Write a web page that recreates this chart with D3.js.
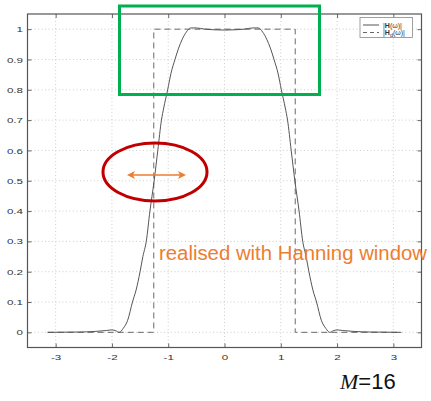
<!DOCTYPE html>
<html><head><meta charset="utf-8">
<script src="https://cdn.jsdelivr.net/npm/d3@7"></script>
<style>body{margin:0;background:#fff}svg{display:block}</style>
</head><body>
<svg id="c" width="431" height="401"></svg>
<script>
// Data
const omega = [-3.1416,-2.9,-2.6,-2.3,-2.1,-2.0,-1.93,-1.87,-1.80,-1.72,-1.635,-1.57,-1.50,-1.45,-1.39,-1.325,-1.25,-1.185,-1.12,-1.08,-1.01,-0.95,-0.88,-0.82,-0.75,-0.68,-0.6,-0.5,-0.35,-0.2,0,
  0.2,0.35,0.5,0.6,0.68,0.75,0.82,0.88,0.95,1.01,1.08,1.12,1.185,1.25,1.325,1.39,1.45,1.50,1.57,1.635,1.72,1.80,1.87,1.93,2.0,2.1,2.3,2.6,2.9,3.1416];
const Hmag = [0,0.0005,0.001,0.003,0.006,0.008,0.005,0.0,0.013,0.04,0.1,0.14,0.2,0.25,0.3,0.4,0.5,0.6,0.7,0.74,0.8,0.855,0.9,0.935,0.967,0.99,1.004,1.004,1.0,0.998,0.997,
  0.998,1.0,1.004,1.004,0.99,0.967,0.935,0.9,0.855,0.8,0.74,0.7,0.6,0.5,0.4,0.3,0.25,0.2,0.14,0.1,0.04,0.013,0.0,0.005,0.008,0.006,0.003,0.001,0.0005,0];
const omegaIdeal = [-3.1416,-1.2566,-1.2566,1.2566,1.2566,3.1416];
const HdIdeal = [0,0,1,1,0,0];
const xTicks = [-3,-2,-1,0,1,2,3];
const yTicks = [0,0.1,0.2,0.3,0.4,0.5,0.6,0.7,0.8,0.9,1];
const noteText = "realised with Hanning window";

const svg = d3.select("#c");
const L=27.5,R=421.5,T=14,B=347.5;
const x = d3.scaleLinear().domain([-3.5,3.5]).range([L,R]);
const y = d3.scaleLinear().domain([-0.05,1.05]).range([B,T]);
const SX = 1.45;

// grid
const g = svg.append("g");
g.selectAll(".gx").data(xTicks).enter().append("line")
 .attr("x1",d=>x(d)).attr("x2",d=>x(d)).attr("y1",T).attr("y2",B)
 .attr("stroke","#c8c8c8").attr("stroke-width",0.9).attr("stroke-dasharray","1,2.5");
g.selectAll(".gy").data(yTicks).enter().append("line")
 .attr("y1",d=>y(d)).attr("y2",d=>y(d)).attr("x1",L).attr("x2",R)
 .attr("stroke","#c8c8c8").attr("stroke-width",0.9).attr("stroke-dasharray","1,2.5");

// axes
const ax = d3.axisBottom(x).tickValues(xTicks).tickSize(-4).tickPadding(7).tickFormat(d=>d<0?"-"+(-d):d);
const ay = d3.axisLeft(y).tickValues(yTicks).tickSize(-4).tickPadding(3.5).tickFormat(d=>d);
const gxA = svg.append("g").attr("transform",`translate(0,${B})`).call(ax);
const gyA = svg.append("g").attr("transform",`translate(${L},0)`).call(ay);
svg.append("g").attr("transform",`translate(0,${T})`).call(d3.axisTop(x).tickValues(xTicks).tickSize(-4).tickFormat(""));
svg.append("g").attr("transform",`translate(${R},0)`).call(d3.axisRight(y).tickValues(yTicks).tickSize(-4).tickFormat(""));
svg.selectAll(".domain").attr("stroke","none");
svg.selectAll(".tick line").attr("stroke","#666");
svg.selectAll(".tick text").attr("fill","#333").style("font-family","Liberation Sans, Arial, sans-serif").style("font-size","8px");
gxA.selectAll(".tick text").attr("transform",`scale(${SX},1)`);
gyA.selectAll(".tick text").attr("transform",`scale(${SX},1)`).attr("x",-4.5/SX);
svg.append("rect").attr("x",L).attr("y",T).attr("width",R-L).attr("height",B-T)
 .attr("fill","none").attr("stroke","#555").attr("stroke-width",1.2);

// ideal
const line = d3.line().x(d=>x(d[0])).y(d=>y(d[1]));
svg.append("path").datum(omegaIdeal.map((w,i)=>[w,HdIdeal[i]])).attr("d",line)
 .attr("fill","none").attr("stroke","#6a6a6a").attr("stroke-width",1).attr("stroke-dasharray","6,4");
// actual
svg.append("path").datum(omega.map((w,i)=>[w,Hmag[i]])).attr("d",d3.line().curve(d3.curveMonotoneX).x(d=>x(d[0])).y(d=>y(d[1])))
 .attr("fill","none").attr("stroke","#555").attr("stroke-width",1);

// legend
const lg = svg.append("g");
lg.append("rect").attr("x",360).attr("y",17.5).attr("width",52.5).attr("height",20).attr("fill","#fff").attr("stroke","#888").attr("stroke-width",0.8);
lg.append("line").attr("x1",363).attr("x2",379).attr("y1",25).attr("y2",25).attr("stroke","#555");
lg.append("line").attr("x1",363).attr("x2",379).attr("y1",32.5).attr("y2",32.5).attr("stroke","#666").attr("stroke-dasharray","4,3");
const lf = "Liberation Sans, Arial, sans-serif";
const t1 = lg.append("text").attr("x",383).attr("y",27.5).attr("fill","#333").style("font-family",lf).style("font-size","7px");
t1.append("tspan").text("|"); t1.append("tspan").attr("font-weight","bold").text("H"); t1.append("tspan").text("(ω)|");
const t2 = lg.append("text").attr("x",383).attr("y",35).attr("fill","#333").style("font-family",lf).style("font-size","7px");
t2.append("tspan").text("|"); t2.append("tspan").attr("font-weight","bold").text("H");
t2.append("tspan").attr("dy",2).style("font-size","5.5px").text("d"); t2.append("tspan").attr("dy",-2).text("(ω)|");

// annotations
svg.append("rect").attr("x",119.5).attr("y",6).attr("width",200).attr("height",88.5)
 .attr("fill","none").attr("stroke","#00b050").attr("stroke-width",3);
svg.append("ellipse").attr("cx",155).attr("cy",172).attr("rx",52).attr("ry",29)
 .attr("fill","none").attr("stroke","#c00000").attr("stroke-width",3);
const orange="#ed7d31";
svg.append("line").attr("x1",132).attr("x2",181).attr("y1",175).attr("y2",175).attr("stroke",orange).attr("stroke-width",1.5);
svg.append("path").attr("d","M127,175 L135,171 L133,175 L135,179 Z").attr("fill",orange);
svg.append("path").attr("d","M186,175 L178,171 L180,175 L178,179 Z").attr("fill",orange);
svg.append("text").attr("x",159).attr("y",260).attr("fill",orange)
 .attr("textLength",268).attr("lengthAdjust","spacingAndGlyphs")
 .style("font-family",lf).style("font-size","19.5px").text(noteText);

const mt = svg.append("text").attr("x",340).attr("y",389).attr("fill","#111").style("font-size","22px");
mt.append("tspan").style("font-family","Liberation Serif, Times New Roman, serif").style("font-style","italic").text("M");
mt.append("tspan").style("font-family",lf).text("=16");
</script>
</body></html>
